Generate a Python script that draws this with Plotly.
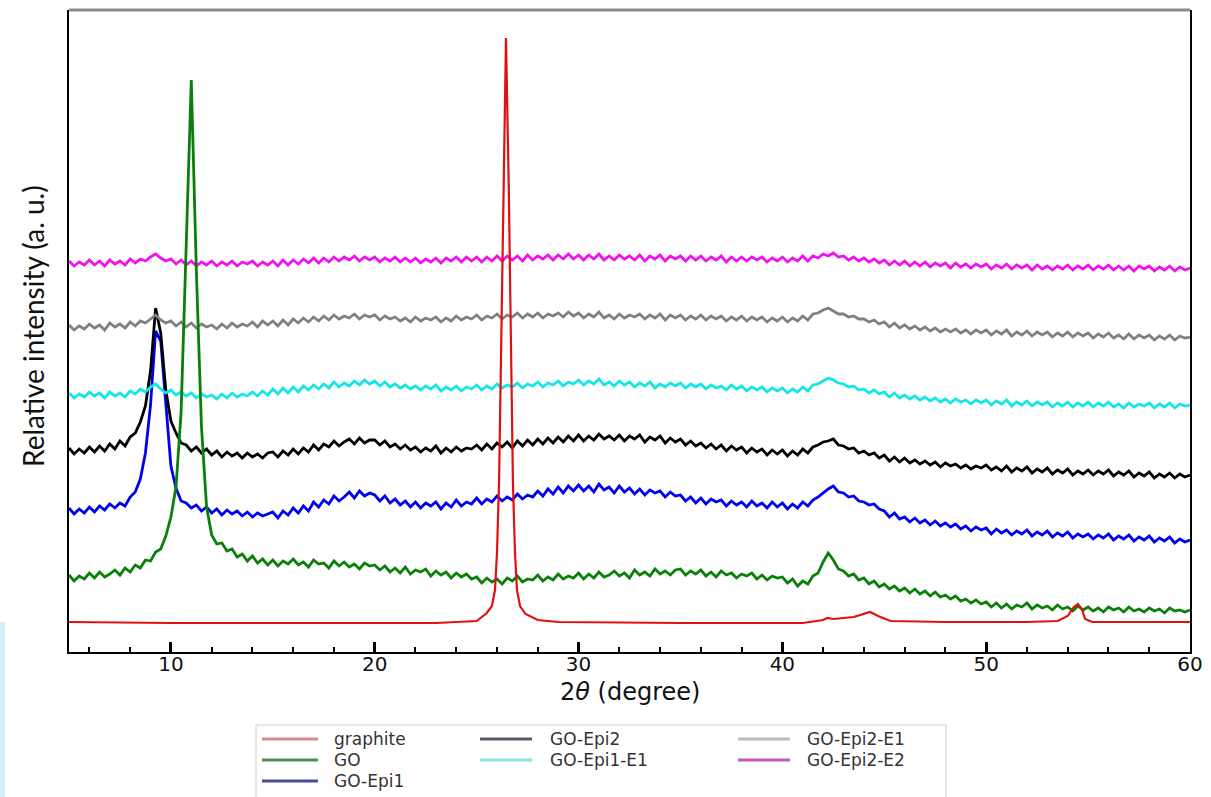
import numpy as np
import plotly.graph_objects as go

# 2-theta sampling grid (degrees)
two_theta = np.round(np.arange(5, 60.001, 0.25), 2)

# Intensities (arbitrary units, offset stacked)
go_vals = [
    77,71,76,73,79,74,80,75,78,82,77,84,80,87,84,92,91,100,103,116,
    135,165,240,400,572,380,225,145,117,108,109,101,103,95,98,91,96,89,93,87,
    92,86,91,88,93,87,90,85,92,88,89,84,91,86,90,85,88,83,89,86,
    87,82,86,80,84,79,85,78,82,80,83,76,81,77,80,74,79,75,78,73,
    75,69,74,70,73,68,74,71,76,70,73,72,77,71,75,72,78,73,76,74,
    79,73,78,74,80,75,77,81,76,79,74,82,77,80,76,83,78,81,77,82,
    83,77,81,78,82,76,80,75,81,77,79,74,78,76,79,73,77,72,76,74,
    75,69,73,66,71,68,76,79,90,99,92,83,81,76,78,72,74,68,71,65,
    68,63,66,61,64,59,63,58,61,56,60,55,57,53,56,51,53,49,52,48,
    50,45,49,44,48,43,47,45,49,43,47,44,46,42,47,43,45,41,46,42,
    45,41,44,40,45,42,44,40,45,41,43,40,44,41,43,39,44,41,42,40,
    42,
]

go_epi1 = [
    144,138,143,139,145,140,146,142,148,144,149,146,155,160,173,199,247,321,311,246,
    186,164,151,149,144,147,141,145,139,143,137,142,138,141,136,140,135,139,136,138,
    140,134,141,137,144,139,146,141,150,145,152,148,156,151,155,160,154,161,156,159,
    157,151,156,149,153,147,151,145,150,144,149,146,150,143,149,145,152,146,150,148,
    154,148,153,150,156,151,155,152,158,153,157,155,161,156,163,158,165,159,166,161,
    167,161,166,160,168,162,165,159,166,160,164,158,163,157,162,159,161,155,160,156,
    157,151,155,149,154,148,153,150,152,146,151,147,150,145,151,146,149,144,150,145,
    149,143,148,144,150,146,152,155,159,163,166,160,159,155,156,151,150,147,148,143,
    141,135,139,133,135,130,134,129,132,127,131,126,129,125,128,123,126,121,125,122,
    124,118,123,119,122,117,121,118,122,116,120,117,121,115,119,116,120,114,118,115,
    118,113,117,114,118,112,116,113,117,111,115,112,116,110,114,111,115,109,113,110,
    112,
]

go_epi2 = [
    204,198,203,199,205,200,206,201,208,203,211,206,215,219,230,246,281,344,319,262,
    231,219,209,207,201,205,199,203,197,201,195,200,196,199,194,199,195,198,194,199,
    200,195,201,197,203,198,204,200,207,202,208,205,211,206,210,213,208,214,209,212,
    212,207,211,205,208,203,207,202,205,200,204,201,206,199,204,200,205,201,204,203,
    207,202,208,203,209,205,210,204,211,206,212,207,213,208,214,209,215,210,216,211,
    217,211,216,212,218,213,216,212,217,211,216,213,217,210,215,212,216,209,214,210,
    213,207,211,206,209,204,208,203,207,201,206,202,205,199,204,200,203,197,202,198,
    202,196,201,197,203,199,205,207,210,211,213,207,206,203,204,199,201,197,199,194,
    197,191,195,190,194,189,192,188,191,187,190,185,189,186,188,184,187,183,186,184,
    187,182,185,181,186,180,184,181,185,179,183,180,184,178,182,179,183,177,181,178,
    182,177,181,178,182,176,180,177,181,175,179,176,180,174,178,175,179,174,178,175,
    177,
]

go_epi1_e1 = [
    259,254,258,255,260,256,259,254,260,256,259,255,261,258,263,260,265,268,263,259,
    262,257,260,256,259,254,258,255,257,253,258,254,259,255,258,256,260,256,261,257,
    263,258,264,259,265,260,266,262,267,263,268,264,270,265,269,266,271,267,272,268,
    271,266,270,265,268,264,267,263,266,262,266,263,267,261,265,262,266,261,265,263,
    267,262,266,263,268,264,267,265,269,264,268,266,270,265,269,267,271,266,270,268,
    272,267,271,268,273,267,270,266,271,267,270,265,269,266,270,264,268,265,269,266,
    269,264,268,265,268,263,267,264,266,262,267,263,266,261,265,262,265,260,264,261,
    264,259,263,260,265,261,267,268,271,274,272,269,268,265,266,262,263,259,262,258,
    260,255,259,254,257,253,256,252,255,251,254,250,253,249,253,250,252,248,252,249,
    252,247,251,248,252,246,250,247,251,246,250,247,250,245,249,246,250,245,249,246,
    250,245,249,246,250,245,248,244,249,245,248,246,249,244,248,245,249,244,248,246,
    247,
]

go_epi2_e1 = [
    327,322,326,323,328,324,327,322,329,325,328,324,330,326,331,329,333,337,332,329,
    331,326,330,325,329,324,328,325,327,323,328,324,329,325,328,326,330,325,331,327,
    331,326,332,327,333,329,334,330,335,331,336,332,337,333,336,334,338,333,337,335,
    337,332,336,333,335,331,334,330,335,331,334,332,335,330,334,331,336,332,335,333,
    337,332,336,334,338,333,337,335,339,334,338,335,339,334,338,336,339,335,340,336,
    339,334,338,335,340,334,337,333,338,334,337,335,338,333,337,334,338,332,337,334,
    337,332,336,333,337,332,336,333,336,331,335,332,336,331,335,332,335,330,334,331,
    335,330,334,331,336,332,338,339,342,344,341,338,338,335,336,333,333,330,332,328,
    330,325,329,324,327,323,326,322,325,321,324,320,323,320,323,319,322,318,322,319,
    322,317,321,318,322,316,320,317,321,316,320,317,320,315,319,316,320,315,319,316,
    319,314,318,315,319,314,317,313,318,313,317,314,317,312,316,313,317,312,316,314,
    315,
]

go_epi2_e2 = [
    391,386,390,387,392,387,391,386,392,388,391,387,393,389,393,391,395,398,394,391,
    393,388,392,387,391,386,390,387,391,386,390,387,391,386,390,388,391,386,390,387,
    391,386,392,387,392,388,393,389,394,389,394,390,395,391,395,392,396,391,395,392,
    395,390,394,391,395,390,394,390,394,389,393,390,394,389,394,391,395,390,395,391,
    395,390,395,391,396,391,396,392,396,391,397,392,396,393,397,392,397,393,398,393,
    397,392,397,393,398,392,396,392,397,393,396,392,397,391,396,393,397,391,396,393,
    396,391,396,392,396,391,395,392,396,390,395,391,395,391,395,392,395,390,394,391,
    395,390,394,391,396,391,396,394,398,396,399,395,396,392,395,391,394,390,393,389,
    392,387,391,387,391,386,390,386,390,385,389,386,389,384,389,385,388,384,388,385,
    388,383,387,384,388,383,387,384,387,382,387,383,386,382,386,383,387,382,386,383,
    387,382,386,383,387,382,386,382,386,381,386,383,386,381,385,382,386,381,385,382,
    384,
]

# graphite pattern is smooth: its own (non-uniform) sampling
graphite_x = [5, 10, 15, 20, 23, 24, 25, 25.5, 25.75, 25.9, 26.0, 26.1, 26.2, 26.3,
              26.44, 26.58, 26.68, 26.78, 26.88, 26.98, 27.13, 27.4, 28, 29, 35, 41,
              42.0, 42.2, 42.5, 43.5, 44.3, 44.7, 45.3, 48, 52, 53.5, 54.0, 54.3,
              54.5, 54.7, 54.85, 55.2, 57, 60]
graphite_y = [30, 29, 29, 29, 29, 30, 31, 39, 46, 62, 100, 170, 300, 460,
              614, 460, 300, 170, 100, 62, 46, 38, 32, 30, 29, 29,
              32, 34, 33, 35, 40, 36, 31, 30, 30, 31, 36, 45,
              48, 43, 33, 30, 30, 30]

for arr in (go_vals, go_epi1, go_epi2, go_epi1_e1, go_epi2_e1, go_epi2_e2):
    assert len(arr) == len(two_theta), len(arr)

names = ["graphite", "GO", "GO-Epi1", "GO-Epi2", "GO-Epi1-E1", "GO-Epi2-E1", "GO-Epi2-E2"]
colors = ["#e01010", "#0a7f0a", "#0000f0", "#000000", "#12e6e6", "#808080", "#f010f0"]
legend_colors = ["#d98b8b", "#4d8a5a", "#4a4a9c", "#5a5a66", "#8fe3e3", "#b4bcb4", "#c155c1"]
# legend grid placement (column, row) as in the original 3-column legend
legend_cell = [(0, 0), (0, 1), (0, 2), (1, 0), (1, 1), (2, 0), (2, 1)]

series = {
    "graphite": (graphite_x, graphite_y),
    "GO": (two_theta, go_vals),
    "GO-Epi1": (two_theta, go_epi1),
    "GO-Epi2": (two_theta, go_epi2),
    "GO-Epi1-E1": (two_theta, go_epi1_e1),
    "GO-Epi2-E1": (two_theta, go_epi2_e1),
    "GO-Epi2-E2": (two_theta, go_epi2_e2),
}

fig = go.Figure()
draw_order = ["GO-Epi1", "GO-Epi2", "GO-Epi1-E1", "GO-Epi2-E1", "GO-Epi2-E2", "GO", "graphite"]
for n in draw_order:
    i = names.index(n)
    xs, ys = series[n]
    fig.add_trace(go.Scatter(x=xs, y=ys, mode="lines", name=n, showlegend=False,
                             line=dict(color=colors[i], width=2.8 if n != "graphite" else 2.2)))

W, H = 1211, 797
L, R, T, B = 69, 21, 10, 145
pw, ph = W - L - R, H - T - B

def px(x):
    return (x - L) / pw

def py(y):
    return (H - B - y) / ph

# legend drawn as line samples + labels inside a framed box
col_line = [(262, 318), (480, 532), (738, 790)]
col_text = [332, 548, 805]
row_y = [739, 760, 781]

shapes = [
    dict(type="rect", xref="paper", yref="paper", x0=px(256), x1=px(946),
         y0=py(800), y1=py(725), line=dict(color="#cfcfcf", width=1),
         fillcolor="white", layer="below"),
    dict(type="line", xref="paper", yref="paper", x0=0, x1=1, y0=1, y1=1,
         line=dict(color="#8c8c8c", width=3)),
    dict(type="rect", xref="paper", yref="paper", x0=px(0), x1=px(5),
         y0=py(797), y1=py(622), line=dict(width=0), fillcolor="#d6edf8",
         layer="below"),
]
annotations = [
    dict(text="2<i>θ</i> (degree)", xref="paper", yref="paper",
         x=0.5, y=py(692), xanchor="center", yanchor="middle", showarrow=False,
         font=dict(family="DejaVu Sans", size=24, color="#111111")),
    dict(text="Relative intensity (a. u.)", xref="paper", yref="paper",
         x=px(33), y=py(326), xanchor="center", yanchor="middle", showarrow=False,
         textangle=-90, font=dict(family="Lato", size=28, color="#111111")),
]
for i, n in enumerate(names):
    c, r = legend_cell[i]
    shapes.append(dict(type="line", xref="paper", yref="paper",
                       x0=px(col_line[c][0]), x1=px(col_line[c][1]),
                       y0=py(row_y[r]), y1=py(row_y[r]),
                       line=dict(color=legend_colors[i], width=3)))
    annotations.append(dict(text=n, xref="paper", yref="paper",
                            x=px(col_text[c]), y=py(row_y[r]),
                            xanchor="left", yanchor="middle", showarrow=False,
                            font=dict(family="DejaVu Sans", size=17, color="#333333")))

fig.update_layout(
    width=W, height=H,
    margin=dict(l=L, r=R, t=T, b=B, autoexpand=False),
    paper_bgcolor="white", plot_bgcolor="white",
    showlegend=False,
    xaxis=dict(range=[5, 60], tickvals=[10, 20, 30, 40, 50, 60],
               ticks="inside", ticklen=10, tickwidth=2.5, tickcolor="black",
               showline=True, linecolor="black", linewidth=2, mirror=False,
               showgrid=False, zeroline=False, ticklabelstandoff=-7,
               tickfont=dict(family="DejaVu Sans", size=20, color="#111111"),
               minor=dict(tick0=0, dtick=2, ticks="inside", ticklen=5,
                          tickwidth=1.5, tickcolor="black", showgrid=False)),
    yaxis=dict(range=[0, 642], showticklabels=False, ticks="",
               showline=True, linecolor="black", linewidth=2, mirror=True,
               showgrid=False, zeroline=False),
    annotations=annotations,
    shapes=shapes,
)

fig.write_html("out.html")
